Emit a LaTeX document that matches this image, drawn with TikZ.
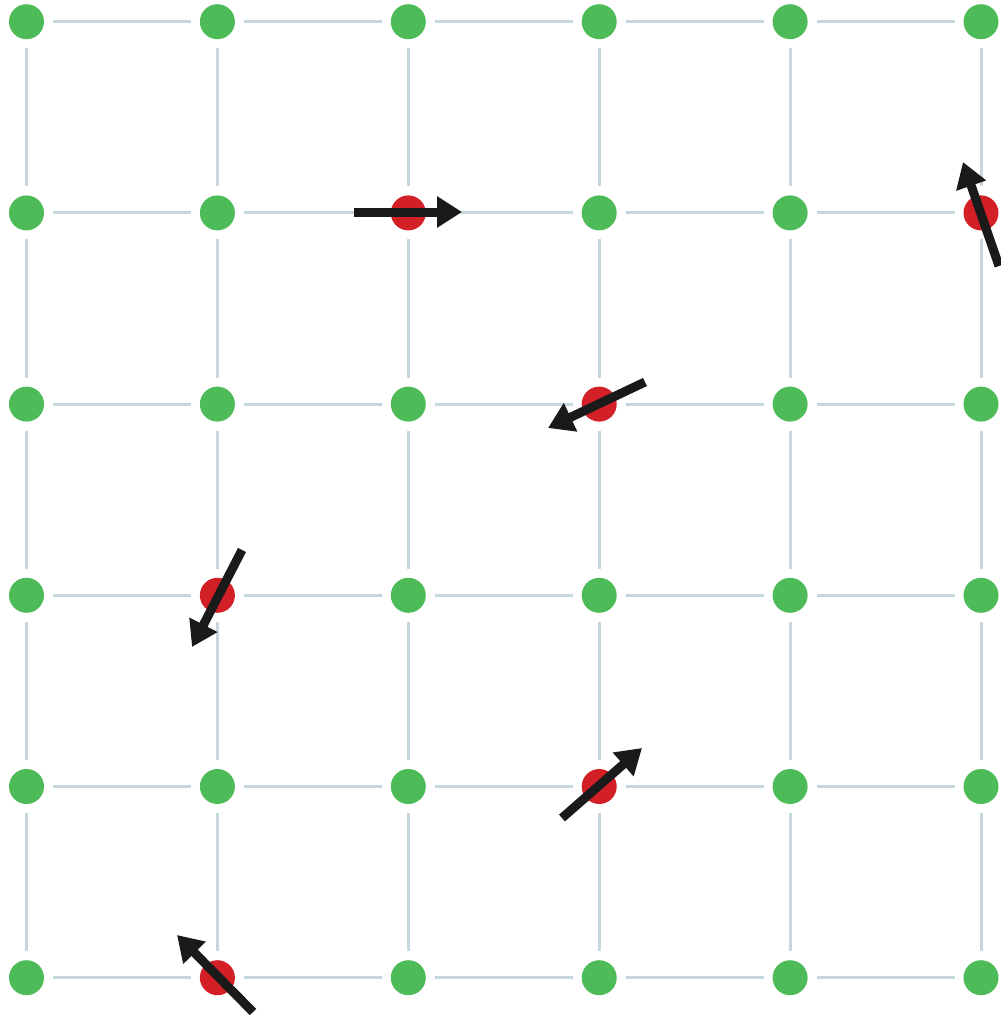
\documentclass[tikz,border=0pt]{standalone}
\usetikzlibrary{arrows.meta}
\definecolor{dotgreen}{RGB}{77,187,87}
\definecolor{dotred}{RGB}{211,31,38}
\definecolor{bondcol}{RGB}{198,215,223}
\definecolor{arrowblack}{RGB}{26,26,26}
\begin{document}
\begin{tikzpicture}[x=1pt,y=-1pt,
  dot/.style={circle,fill=dotgreen,minimum size=35pt,inner sep=0pt,outer sep=9pt},
  bond/.style={draw=bondcol,line width=3pt},
  moment/.style={draw=arrowblack,line width=9pt,-{Triangle[length=25pt,width=30pt]}}]
\useasboundingbox (0,0) rectangle (1001,1015);
\foreach \i in {0,...,5} {
  \foreach \j in {0,...,5} {
    \xdef\dotcol{dotgreen}
    \foreach \a/\b in {2/1,5/1,3/2,1/3,3/4,1/5}{\ifnum\i=\a\relax\ifnum\j=\b\relax\xdef\dotcol{dotred}\fi\fi}
    \node[dot,fill=\dotcol] (n-\i-\j) at ({26.5+190.9*\i},{21.7+191.2*\j}) {};
  }
}
\foreach \i in {0,...,5} {
  \foreach \j in {0,...,4} {
    \pgfmathtruncatemacro{\k}{\j+1}
    \path[bond] (n-\i-\j) -- (n-\i-\k);
    \path[bond] (n-\j-\i) -- (n-\k-\i);
  }
}
\coordinate (t1) at (354,212); \coordinate (h1) at (462,212);
\coordinate (t2) at (999,266); \coordinate (h2) at (963,162);
\coordinate (t3) at (645,382); \coordinate (h3) at (548,428);
\coordinate (t4) at (242,550); \coordinate (h4) at (192,647);
\coordinate (t5) at (562,818); \coordinate (h5) at (642,748);
\coordinate (t6) at (253,1012); \coordinate (h6) at (177,935);
\foreach \n in {1,...,6} \draw[moment] (t\n) -- (h\n);
\end{tikzpicture}
\end{document}
